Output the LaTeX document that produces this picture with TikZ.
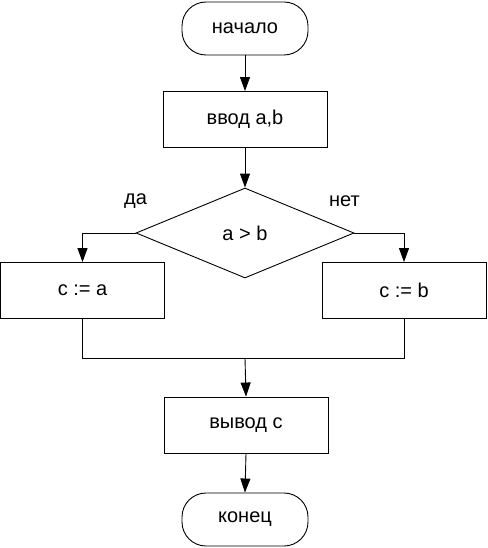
\documentclass[tikz,border=0pt]{standalone}
\usepackage{fontspec}
\setmainfont{Liberation Sans}
\usetikzlibrary{shapes.geometric,arrows.meta}
\begin{document}
\begin{tikzpicture}[x=1pt,y=-1pt,
  every node/.style={font=\fontsize{20}{22}\selectfont},
  base/.style={draw,line width=0.9pt,inner sep=0pt,anchor=center},
  term/.style={base,rectangle,rounded corners=24pt,minimum width=126pt,minimum height=53pt},
  proc/.style={base,rectangle,minimum width=164pt,minimum height=56pt},
  dec/.style={base,diamond,minimum width=218pt,minimum height=90pt},
  lbl/.style={inner sep=0pt},
  conn/.style={line width=0.9pt},
  arr/.style={conn,-{Triangle[length=14pt,width=10pt]}}]
\useasboundingbox (0,0) rectangle (487,548);
\node[term] (start) at (245,28.5) {начало};
\node[proc] (inp) at (245,119.5) {ввод a,b};
\node[dec] (dia) at (245,233) {a > b};
\node[proc] (left) at (82.5,290.5) {c := a};
\node[proc] (right) at (404,290.5) {c := b};
\node[proc] (out) at (246,425) {вывод c};
\node[term] (end) at (245,519.5) {конец};
\node[lbl] (yes) at (135.5,201) {да};
\node[lbl] (no) at (344.5,201) {нет};
\coordinate (m) at (245,358);
\draw[arr] (start) -- (inp);
\draw[arr] (inp) -- (dia);
\draw[arr] (dia.west) -| (left.north);
\draw[arr] (dia.east) -| (right.north);
\draw[conn] (left.south) |- (m);
\draw[conn] (right.south) |- (m);
\draw[arr] (m) -- (out.north);
\draw[arr] (out.south) -- (end.north);
\end{tikzpicture}
\end{document}
